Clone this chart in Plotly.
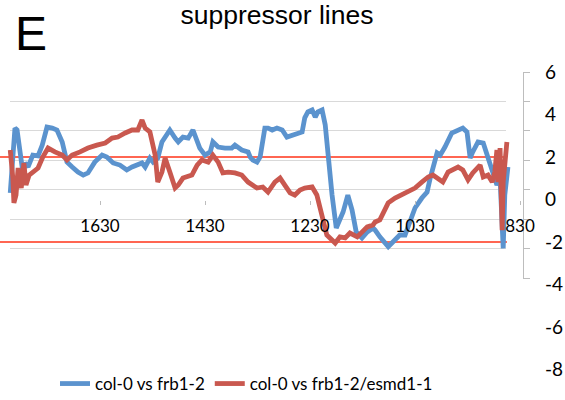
import plotly.graph_objects as go

# ---------------- data ----------------
blue_x = [1801, 1792, 1788, 1782, 1777, 1773, 1767, 1758, 1748, 1740, 1731, 1721, 1712, 1702,
          1693, 1683, 1672, 1662, 1653, 1640, 1626, 1617, 1605, 1592, 1579, 1569, 1558, 1550,
          1544, 1535, 1529, 1520, 1512, 1502, 1497, 1487, 1481, 1472, 1462, 1453, 1445, 1440,
          1430, 1420, 1415, 1405, 1392, 1379, 1373, 1360, 1348, 1344, 1339, 1331, 1325, 1316,
          1310, 1302, 1293, 1283, 1274, 1264, 1255, 1245, 1240, 1234, 1226, 1220, 1215, 1207,
          1201, 1196, 1188, 1180, 1173, 1167, 1158, 1150, 1142, 1131, 1121, 1110, 1106, 1097,
          1081, 1072, 1059, 1049, 1040, 1030, 1017, 1007, 1001, 996, 988, 982, 973, 960, 950,
          939, 931, 925, 920, 910, 900, 891, 881, 874, 868, 862, 859, 853]
blue_y = [0.31, 3.36, 3.27, 1.95, 1.29, 1.72, 1.53, 2.09, 2.05, 2.56, 3.41, 3.36, 3.27, 2.71,
          1.76, 1.53, 1.29, 1.15, 1.25, 1.76, 2.09, 2.00, 1.72, 1.62, 1.39, 1.53, 1.62, 1.72,
          1.53, 1.95, 1.76, 1.95, 2.71, 3.04, 3.27, 2.89, 2.71, 2.94, 2.89, 3.27, 2.71, 2.42,
          2.09, 2.24, 2.71, 2.47, 2.42, 2.42, 2.56, 2.33, 2.24, 2.00, 1.86, 1.76, 2.00, 3.36,
          3.36, 3.27, 3.36, 3.27, 2.94, 3.04, 3.13, 3.18, 3.84, 4.12, 4.21, 3.88, 4.12, 4.21,
          3.51, 2.09, 0.21, -1.34, -0.87, -0.59, 0.21, -0.49, -1.53, -1.81, -1.53, -1.34, -1.44, -1.76,
          -2.22, -2.00, -1.67, -1.67, -1.06, -0.40, 0.07, 0.35, 1.01, 1.48, 2.19, 2.09, 2.47, 3.13, 3.27,
          3.36, 3.18, 1.95, 2.24, 2.71, 2.66, 1.95, 1.15, 0.68, 1.01, -2.30, 0.21, 1.53]

red_x = [1801, 1796, 1794, 1790, 1786, 1780, 1775, 1771, 1765, 1758, 1748, 1739, 1729, 1716,
         1702, 1693, 1683, 1668, 1653, 1636, 1620, 1607, 1596, 1582, 1569, 1558, 1550, 1544,
         1535, 1525, 1520, 1512, 1506, 1497, 1487, 1481, 1472, 1455, 1445, 1436, 1424, 1415,
         1405, 1396, 1386, 1373, 1360, 1348, 1339, 1331, 1320, 1310, 1297, 1287, 1278, 1268,
         1259, 1249, 1240, 1226, 1217, 1207, 1198, 1182, 1173, 1163, 1154, 1140, 1131, 1121,
         1110, 1106, 1097, 1093, 1081, 1068, 1055, 1043, 1030, 1017, 1005, 996, 986, 977, 967,
         958, 948, 939, 929, 920, 906, 900, 891, 883, 878, 874, 872, 868, 864, 862, 855]
red_y = [2.33, 1.01, -0.16, 0.21, 1.48, 0.54, 1.72, 0.68, 1.15, 1.29, 1.48, 2.00, 2.42, 2.24,
         2.09, 1.86, 2.09, 2.24, 2.42, 2.56, 2.66, 2.89, 2.94, 3.13, 3.27, 3.27, 3.74, 3.36,
         3.18, 2.09, 0.82, 1.29, 1.95, 1.29, 0.54, 0.68, 1.01, 1.15, 1.62, 1.86, 1.76, 2.09,
         1.76, 1.25, 1.29, 1.25, 1.15, 0.82, 0.64, 0.54, 0.59, 0.35, 0.82, 1.01, 0.68, 0.31,
         0.21, 0.45, 0.54, 0.59, 0.21, -0.87, -1.67, -2.05, -1.76, -1.81, -1.58, -1.76, -1.53, -1.29,
         -1.20, -1.06, -0.96, -0.73, -0.16, 0.07, 0.21, 0.35, 0.54, 0.82, 1.06, 1.15, 1.01, 0.82, 1.29,
         1.39, 1.53, 1.39, 0.92, 1.25, 1.62, 1.06, 1.15, 0.82, 1.29, 2.33, 0.82, 2.42, -1.44, 0.82, 2.71]

series_names = ["col-0 vs frb1-2", "col-0 vs frb1-2/esmd1-1"]
thresholds = [2, -2]
x_tick_vals = [1630, 1430, 1230, 1030, 830]
y_tick_vals = [6, 4, 2, 0, -2, -4, -6, -8]
y_tick_text = ["%d" % v for v in y_tick_vals]   # plain hyphen-minus as in the original

# ---------------- styling ----------------
W, H = 565, 400
BLUE = "#5B93CE"
RED = "#C9584F"
THR = "#FF3318"
GRID = "#D9D9D9"
AXIS = "#BDBDBD"
TICK_FONT = dict(family="Lato", size=17, color="black")

X_RANGE = [1820.5, 822.4]      # reversed axis
Y_RANGE = [-8.494, 6.565]

fig = go.Figure()

# helper subplot (x/y) carrying gridlines and the right-hand axis line
fig.add_trace(go.Scatter(x=[], y=[], xaxis="x", yaxis="y", showlegend=False, hoverinfo="skip"))

# threshold lines
for t in thresholds:
    fig.add_trace(go.Scatter(x=[X_RANGE[0], red_x[-1]], y=[t, t], mode="lines",
                             line=dict(color=THR, width=1.5), showlegend=False,
                             xaxis="x2", yaxis="y2", hoverinfo="skip"))

fig.add_trace(go.Scatter(x=blue_x, y=blue_y, mode="lines", name=series_names[0],
                         line=dict(color=BLUE, width=4.8), xaxis="x2", yaxis="y2"))
fig.add_trace(go.Scatter(x=red_x, y=red_y, mode="lines", name=series_names[1],
                         line=dict(color=RED, width=4.8), xaxis="x2", yaxis="y2"))

grid_vals = [-(72 + 29.45 * k) for k in range(8)]

fig.update_layout(
    width=W, height=H, autosize=False,
    margin=dict(l=0, r=0, t=0, b=0, autoexpand=False),
    paper_bgcolor="white", plot_bgcolor="rgba(0,0,0,0)",
    title=dict(text="suppressor lines", x=277 / W, xanchor="center",
               y=1 - 15 / H, yanchor="middle", yref="container",
               font=dict(family="Liberation Sans", size=26.5, color="black")),
    xaxis=dict(domain=[10 / W, 506 / W], range=[0, 1], visible=False, automargin=False),
    yaxis=dict(domain=[1 - 278.5 / H, 1 - 71.5 / H], range=[-278.5, -71.5],
               tickvals=grid_vals, showticklabels=False, showgrid=True,
               gridcolor=GRID, gridwidth=1, zeroline=False, automargin=False,
               showline=True, linecolor=AXIS, linewidth=1,
               side="right", anchor="free", position=523 / W,
               ticks="outside", ticklen=6, tickcolor=AXIS),
    xaxis2=dict(domain=[0, 524 / W], range=X_RANGE, anchor="free", position=1 - 200 / H,
                tickvals=x_tick_vals, ticks="outside", ticklen=4, tickcolor=AXIS,
                ticklabelstandoff=7, automargin=False,
                showgrid=False, zeroline=False, showline=False, tickfont=TICK_FONT),
    yaxis2=dict(domain=[1 - 380 / H, 1 - 60 / H], range=Y_RANGE, anchor="free",
                position=544 / W, side="right", tickvals=y_tick_vals, ticktext=y_tick_text,
                ticks="", showgrid=False, zeroline=False, showline=False, automargin=False,
                tickfont=dict(family="Lato", size=19, color="black")),
    legend=dict(orientation="h", x=55 / W, xanchor="left", y=1 - 384 / H, yanchor="middle",
                font=dict(family="Lato", size=17, color="black"), bgcolor="rgba(0,0,0,0)"),
    annotations=[dict(text="E", xref="paper", yref="paper", x=13 / W, y=1 - 33 / H,
                      xanchor="left", yanchor="middle", showarrow=False,
                      font=dict(family="Liberation Sans", size=48, color="black"))],
)

fig.write_html("out.html", config={"displayModeBar": False, "responsive": False},
               post_script="document.body.style.margin='0px';"
                           "document.body.style.overflow='hidden';")
